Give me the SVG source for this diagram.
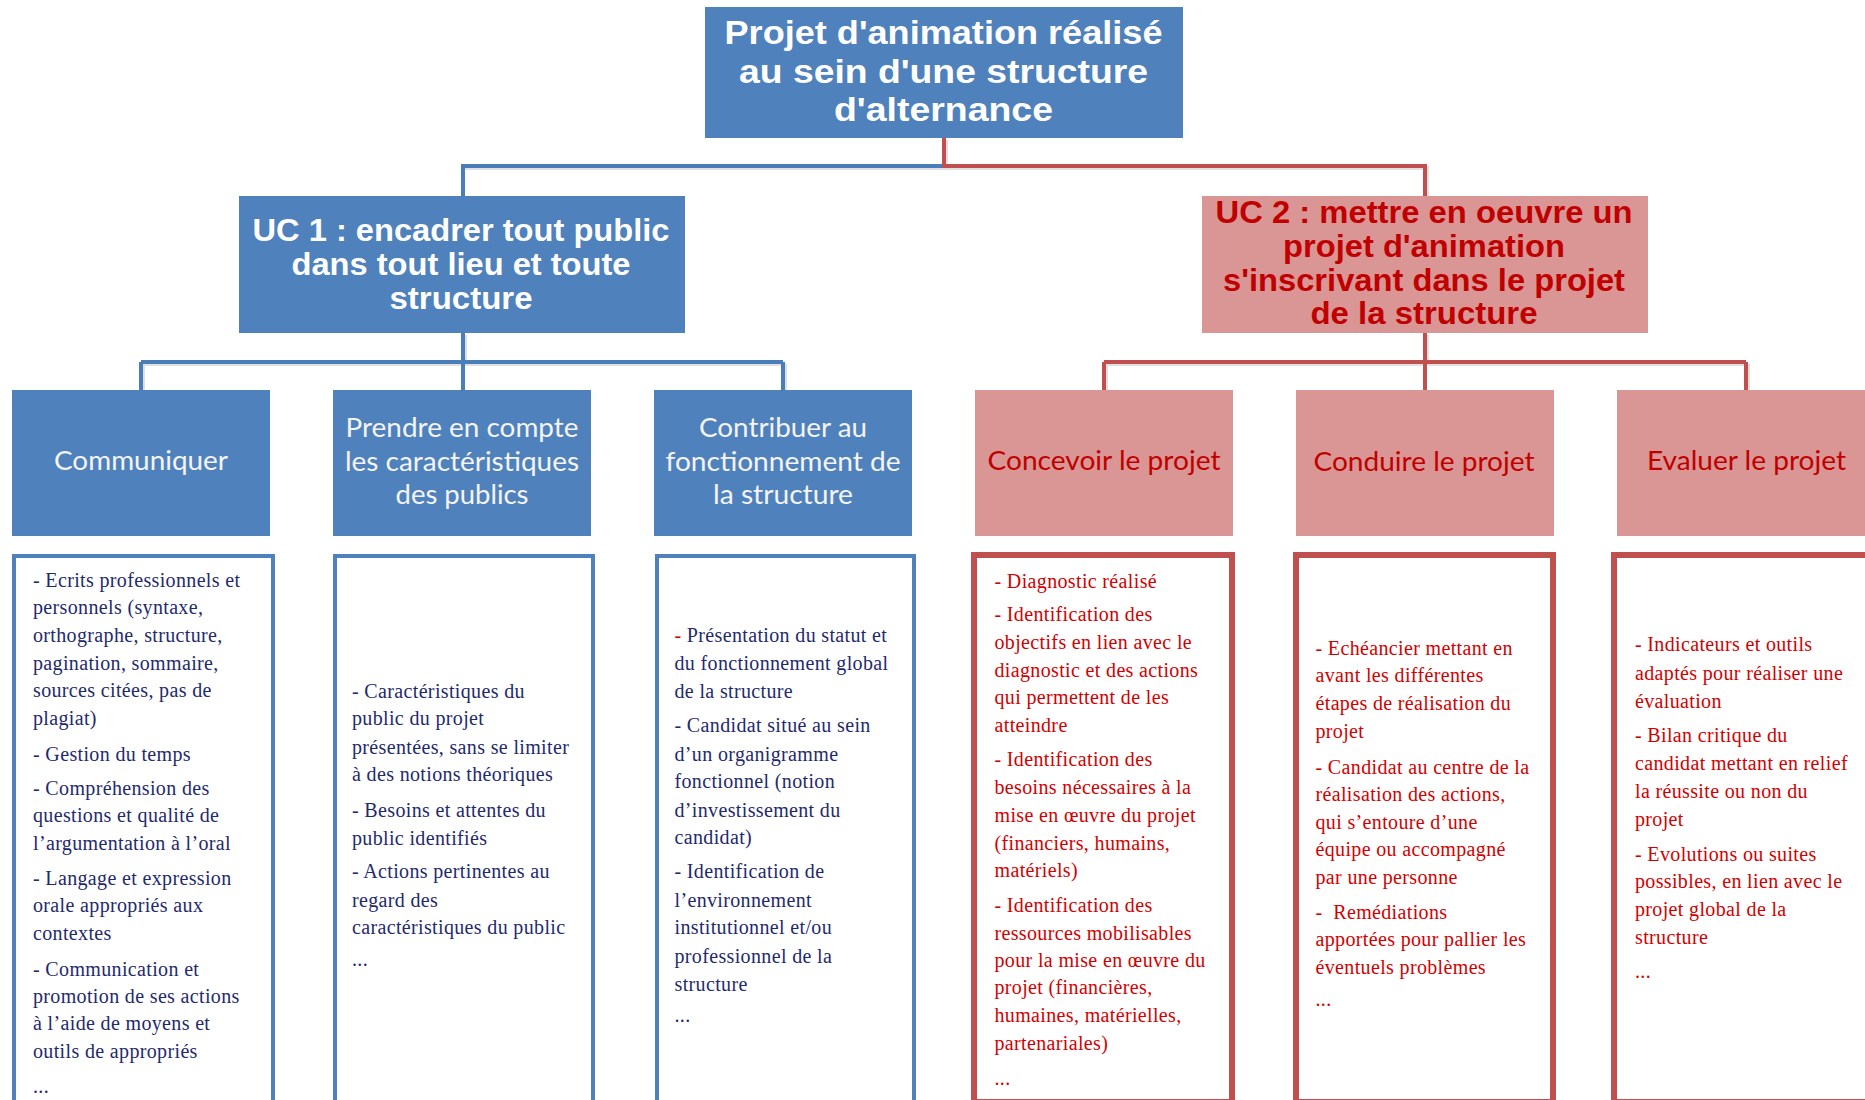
<svg xmlns="http://www.w3.org/2000/svg" width="1865" height="1100" viewBox="0 0 1865 1100">
<style>
  .bg { fill: #ffffff; }
  .fillBlue { fill: #4F81BD; }
  .fillPink { fill: #D99694; }
  .boxBlue { fill: #ffffff; stroke: #4F81BD; stroke-width: 4; }
  .boxRed { fill: #ffffff; stroke: #C0504D; stroke-width: 6; }
  .connBlue { fill: none; stroke: #4A7EBB; stroke-width: 4; }
  .connRed { fill: none; stroke: #C0504D; stroke-width: 4; }
  .shadow { fill: none; stroke: #000000; stroke-opacity: 0.12; stroke-width: 4; }
  .title { font-family: "Liberation Sans", Arial, sans-serif; font-weight: bold; text-anchor: middle; }
  .tw { fill: #FFFFFF; }
  .tr { fill: #C00000; }
  .l3 { font-family: Lato, "Open Sans", sans-serif; font-size: 27.5px; text-anchor: middle; }
  .l3w { fill: #F4F4F4; }
  .l3r { fill: #C00000; }
  .body { font-family: "Liberation Serif", "Times New Roman", serif; font-size: 20px; letter-spacing: 0.35px; }
  .bb { fill: #1F2A6E; }
  .br { fill: #D40000; }
</style>
<rect class="bg" x="0" y="0" width="1865" height="1100"/>

<g id="connectors">
  <path class="shadow" d="M944 168 H463 V196"/>
  <path class="shadow" d="M946 140 V168 H1427 V196"/>
  <path class="connBlue" d="M944 166 H463 V196"/>
  <path class="connRed" d="M944 138 V166 H1425 V196"/>
  <path class="shadow" d="M465 335 V364 M141 364 H785 M143 364 V390 M785 364 V390"/>
  <path class="connBlue" d="M463 333 V390 M141 362 H783 M141 362 V390 M783 362 V390"/>
  <path class="shadow" d="M1427 335 V364 M1104 364 H1748 M1106 364 V390 M1748 364 V390"/>
  <path class="connRed" d="M1425 333 V390 M1104 362 H1746 M1104 362 V390 M1746 362 V390"/>
</g>

<g id="root">
  <rect class="fillBlue" x="705" y="7" width="478" height="131"/>
  <text class="title tw" font-size="33" x="943.5" y="44" textLength="438" lengthAdjust="spacingAndGlyphs">Projet d'animation réalisé</text>
  <text class="title tw" font-size="33" x="943.5" y="82.5" textLength="409" lengthAdjust="spacingAndGlyphs">au sein d'une structure</text>
  <text class="title tw" font-size="33" x="943.5" y="121" textLength="219" lengthAdjust="spacingAndGlyphs">d'alternance</text>
</g>

<g id="uc1">
  <rect class="fillBlue" x="239" y="196" width="446" height="137"/>
  <text class="title tw" font-size="31" x="461" y="241" textLength="417" lengthAdjust="spacingAndGlyphs">UC 1 : encadrer tout public</text>
  <text class="title tw" font-size="31" x="461" y="275" textLength="339" lengthAdjust="spacingAndGlyphs">dans tout lieu et toute</text>
  <text class="title tw" font-size="31" x="461" y="308.5" textLength="143" lengthAdjust="spacingAndGlyphs">structure</text>
</g>

<g id="uc2">
  <rect class="fillPink" x="1202" y="196" width="446" height="137"/>
  <text class="title tr" font-size="31" x="1424" y="223" textLength="417" lengthAdjust="spacingAndGlyphs">UC 2 : mettre en oeuvre un</text>
  <text class="title tr" font-size="31" x="1424" y="257" textLength="282" lengthAdjust="spacingAndGlyphs">projet d'animation</text>
  <text class="title tr" font-size="31" x="1424" y="290.5" textLength="402" lengthAdjust="spacingAndGlyphs">s'inscrivant dans le projet</text>
  <text class="title tr" font-size="31" x="1424" y="324" textLength="227" lengthAdjust="spacingAndGlyphs">de la structure</text>
</g>

<g id="communiquer">
  <rect class="fillBlue" x="12" y="390" width="258" height="146"/>
  <text class="l3 l3w" x="141" y="470" textLength="174" lengthAdjust="spacingAndGlyphs">Communiquer</text>
</g>
<g id="prendre-en-compte">
  <rect class="fillBlue" x="333" y="390" width="258" height="146"/>
  <text class="l3 l3w" x="462" y="437" textLength="233" lengthAdjust="spacingAndGlyphs">Prendre en compte</text>
  <text class="l3 l3w" x="462" y="470.5" textLength="234" lengthAdjust="spacingAndGlyphs">les caractéristiques</text>
  <text class="l3 l3w" x="462" y="503.5" textLength="133" lengthAdjust="spacingAndGlyphs">des publics</text>
</g>
<g id="contribuer">
  <rect class="fillBlue" x="654" y="390" width="258" height="146"/>
  <text class="l3 l3w" x="783" y="437" textLength="168" lengthAdjust="spacingAndGlyphs">Contribuer au</text>
  <text class="l3 l3w" x="783" y="470.5" textLength="235" lengthAdjust="spacingAndGlyphs">fonctionnement de</text>
  <text class="l3 l3w" x="783" y="503.5" textLength="140" lengthAdjust="spacingAndGlyphs">la structure</text>
</g>
<g id="concevoir">
  <rect class="fillPink" x="975" y="390" width="258" height="146"/>
  <text class="l3 l3r" x="1104" y="470" textLength="233" lengthAdjust="spacingAndGlyphs">Concevoir le projet</text>
</g>
<g id="conduire">
  <rect class="fillPink" x="1296" y="390" width="258" height="146"/>
  <text class="l3 l3r" x="1424" y="470.5" textLength="221" lengthAdjust="spacingAndGlyphs">Conduire le projet</text>
</g>
<g id="evaluer">
  <rect class="fillPink" x="1617" y="390" width="260" height="146"/>
  <text class="l3 l3r" x="1746.5" y="470" textLength="199" lengthAdjust="spacingAndGlyphs">Evaluer le projet</text>
</g>

<g id="detail-communiquer">
  <rect class="boxBlue" x="14" y="556" width="259" height="546"/>
  <g class="body bb">
    <text x="33" y="587">- Ecrits professionnels et</text>
    <text x="33" y="614">personnels (syntaxe,</text>
    <text x="33" y="642">orthographe, structure,</text>
    <text x="33" y="670">pagination, sommaire,</text>
    <text x="33" y="697">sources citées, pas de</text>
    <text x="33" y="725">plagiat)</text>
    <text x="33" y="761">- Gestion du temps</text>
    <text x="33" y="795">- Compréhension des</text>
    <text x="33" y="822">questions et qualité de</text>
    <text x="33" y="850">l’argumentation à l’oral</text>
    <text x="33" y="885">- Langage et expression</text>
    <text x="33" y="912">orale appropriés aux</text>
    <text x="33" y="940">contextes</text>
    <text x="33" y="976">- Communication et</text>
    <text x="33" y="1003">promotion de ses actions</text>
    <text x="33" y="1030">à l’aide de moyens et</text>
    <text x="33" y="1058">outils de appropriés</text>
    <text x="33" y="1093">...</text>
  </g>
</g>

<g id="detail-prendre">
  <rect class="boxBlue" x="335" y="556" width="258" height="546"/>
  <g class="body bb">
    <text x="352" y="697.5">- Caractéristiques du</text>
    <text x="352" y="725">public du projet</text>
    <text x="352" y="753.5">présentées, sans se limiter</text>
    <text x="352" y="781">à des notions théoriques</text>
    <text x="352" y="816.5">- Besoins et attentes du</text>
    <text x="352" y="845">public identifiés</text>
    <text x="352" y="878">- Actions pertinentes au</text>
    <text x="352" y="907">regard des</text>
    <text x="352" y="934">caractéristiques du public</text>
    <text x="352" y="966">...</text>
  </g>
</g>

<g id="detail-contribuer">
  <rect class="boxBlue" x="657" y="556" width="257" height="546"/>
  <g class="body bb">
    <text x="674.5" y="642"><tspan fill="#D40000">-</tspan> Présentation du statut et</text>
    <text x="674.5" y="670">du fonctionnement global</text>
    <text x="674.5" y="697.5">de la structure</text>
    <text x="674.5" y="732">- Candidat situé au sein</text>
    <text x="674.5" y="760.5">d’un organigramme</text>
    <text x="674.5" y="788">fonctionnel (notion</text>
    <text x="674.5" y="816.5">d’investissement du</text>
    <text x="674.5" y="844">candidat)</text>
    <text x="674.5" y="878">- Identification de</text>
    <text x="674.5" y="907">l’environnement</text>
    <text x="674.5" y="934">institutionnel et/ou</text>
    <text x="674.5" y="963">professionnel de la</text>
    <text x="674.5" y="991">structure</text>
    <text x="674.5" y="1022">...</text>
  </g>
</g>

<g id="detail-concevoir">
  <rect class="boxRed" x="974" y="555" width="258" height="547"/>
  <g class="body br">
    <text x="994.5" y="588">- Diagnostic réalisé</text>
    <text x="994.5" y="621">- Identification des</text>
    <text x="994.5" y="649">objectifs en lien avec le</text>
    <text x="994.5" y="677">diagnostic et des actions</text>
    <text x="994.5" y="704">qui permettent de les</text>
    <text x="994.5" y="732">atteindre</text>
    <text x="994.5" y="766">- Identification des</text>
    <text x="994.5" y="794">besoins nécessaires à la</text>
    <text x="994.5" y="822">mise en œuvre du projet</text>
    <text x="994.5" y="850">(financiers, humains,</text>
    <text x="994.5" y="877">matériels)</text>
    <text x="994.5" y="912">- Identification des</text>
    <text x="994.5" y="940">ressources mobilisables</text>
    <text x="994.5" y="967">pour la mise en œuvre du</text>
    <text x="994.5" y="994">projet (financières,</text>
    <text x="994.5" y="1022">humaines, matérielles,</text>
    <text x="994.5" y="1050">partenariales)</text>
    <text x="994.5" y="1085">...</text>
  </g>
</g>

<g id="detail-conduire">
  <rect class="boxRed" x="1296" y="555" width="257" height="547"/>
  <g class="body br">
    <text x="1315.5" y="654.5">- Echéancier mettant en</text>
    <text x="1315.5" y="682">avant les différentes</text>
    <text x="1315.5" y="709.5">étapes de réalisation du</text>
    <text x="1315.5" y="738">projet</text>
    <text x="1315.5" y="773.5">- Candidat au centre de la</text>
    <text x="1315.5" y="801">réalisation des actions,</text>
    <text x="1315.5" y="828.5">qui s’entoure d’une</text>
    <text x="1315.5" y="856">équipe ou accompagné</text>
    <text x="1315.5" y="884">par une personne</text>
    <text x="1315.5" y="919">-&#160; Remédiations</text>
    <text x="1315.5" y="946">apportées pour pallier les</text>
    <text x="1315.5" y="974">éventuels problèmes</text>
    <text x="1315.5" y="1006">...</text>
  </g>
</g>

<g id="detail-evaluer">
  <rect class="boxRed" x="1614" y="555" width="258" height="547"/>
  <g class="body br">
    <text x="1635" y="651">- Indicateurs et outils</text>
    <text x="1635" y="680">adaptés pour réaliser une</text>
    <text x="1635" y="708">évaluation</text>
    <text x="1635" y="741.5">- Bilan critique du</text>
    <text x="1635" y="770">candidat mettant en relief</text>
    <text x="1635" y="797.5">la réussite ou non du</text>
    <text x="1635" y="825.5">projet</text>
    <text x="1635" y="860.5">- Evolutions ou suites</text>
    <text x="1635" y="888">possibles, en lien avec le</text>
    <text x="1635" y="916">projet global de la</text>
    <text x="1635" y="944">structure</text>
    <text x="1635" y="978">...</text>
  </g>
</g>
</svg>
